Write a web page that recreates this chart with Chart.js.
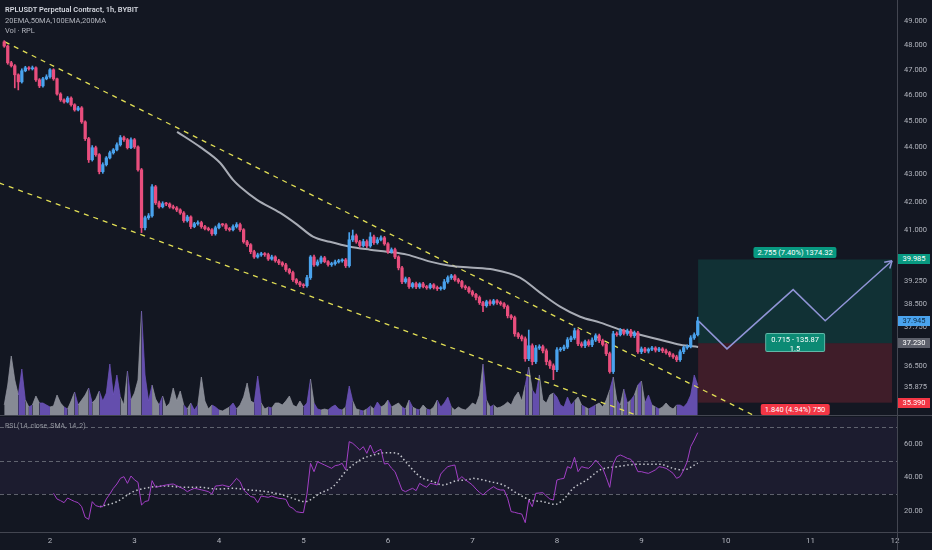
<!DOCTYPE html>
<html><head><meta charset="utf-8">
<script src="https://cdn.jsdelivr.net/npm/chart.js@4.4.1/dist/chart.umd.min.js"></script>
<style>
html,body{margin:0;padding:0;background:#131722;width:932px;height:550px;overflow:hidden;font-family:Roboto,"Liberation Sans",sans-serif}
#wrap{position:relative;width:932px;height:550px}
canvas{position:absolute;left:0}
#price{top:0}
#rsi{top:415px}
.lbl{position:absolute;white-space:nowrap;font-size:7.5px;line-height:10px;color:#fff;text-align:center}
.hdr{position:absolute;left:5px;white-space:nowrap;color:#b2b5be;font-size:7.5px;line-height:9px}
</style></head>
<body><div id="wrap">
<canvas id="price" width="932" height="415"></canvas>
<canvas id="rsi" width="932" height="135"></canvas>
<div class="hdr" style="top:5px;color:#d1d4dc;font-weight:600">RPLUSDT Perpetual Contract, 1h, BYBIT</div>
<div class="hdr" style="top:16px">20EMA,50MA,100EMA,200MA</div>
<div class="hdr" style="top:26px">Vol · RPL</div>
<div class="hdr" style="top:422px;font-size:7px;color:#9598a1">RSI (14, close, SMA, 14, 2)</div>
</div>
<script>
// ---------- DATA ----------
const firstHour = 11;          // first candle: day 1, 11:00 (hours counted from day 1 00:00)
const firstOpen = 48.13;
const closes = [
47.96,47.28,47.16,46.80,46.52,46.96,47.08,47.04,47.08,46.60,
46.36,46.64,46.72,47.00,46.64,46.04,45.81,45.73,45.88,45.62,
45.42,45.50,44.96,44.32,43.53,43.98,43.72,43.09,43.35,43.60,
43.79,43.90,44.09,44.36,44.28,43.98,44.28,44.01,43.16,41.08,
41.43,41.50,42.54,41.96,41.82,41.93,41.92,41.82,41.78,41.71,
41.60,41.33,41.46,41.12,41.22,41.26,41.12,41.05,41.01,40.87,
41.08,41.19,41.18,41.05,41.01,41.12,41.19,41.01,40.59,40.49,
40.25,40.07,40.14,40.18,40.15,40.00,40.07,39.94,39.87,39.80,
39.64,39.54,39.30,39.20,39.13,39.10,39.37,40.07,39.80,39.90,
40.04,39.91,39.81,39.84,39.90,39.94,39.97,39.77,40.66,40.80,
40.59,40.46,40.60,40.45,40.76,40.56,40.66,40.73,40.52,40.25,
40.32,40.07,39.70,39.23,39.33,39.07,39.17,39.06,39.16,39.07,
39.03,39.13,39.04,39.00,39.01,39.23,39.37,39.43,39.30,39.24,
39.07,39.03,38.90,38.81,38.71,38.54,38.44,38.57,38.51,38.60,
38.54,38.50,38.41,38.11,38.05,37.53,37.44,37.37,36.74,37.15,
36.65,37.08,37.12,36.99,36.65,36.52,36.40,37.02,37.05,37.11,
37.34,37.40,37.63,37.21,37.15,37.28,37.18,37.33,37.47,37.31,
37.19,36.90,36.34,37.53,37.50,37.63,37.54,37.62,37.47,37.56,
36.96,37.05,36.98,37.04,37.08,37.01,37.05,36.99,36.93,36.86,
36.80,36.71,36.96,37.09,37.12,37.40,37.50,37.945];
const wickUp = [
0.05,0.04,0.06,0.05,0.04,0.08,0.06,0.05,0.07,0.04,
0.05,0.06,0.08,0.05,0.04,0.03,0.05,0.04,0.06,0.05,
0.04,0.06,0.05,0.04,0.05,0.08,0.06,0.04,0.07,0.05,
0.06,0.05,0.07,0.08,0.06,0.05,0.07,0.05,0.04,0.05,
0.06,0.08,0.08,0.05,0.06,0.07,0.05,0.04,0.06,0.05,
0.04,0.05,0.06,0.04,0.05,0.06,0.05,0.04,0.05,0.04,
0.06,0.05,0.04,0.05,0.04,0.06,0.07,0.05,0.04,0.05,
0.04,0.05,0.06,0.05,0.04,0.05,0.06,0.04,0.05,0.04,
0.05,0.04,0.05,0.04,0.05,0.04,0.08,0.05,0.06,0.07,
0.06,0.05,0.04,0.05,0.06,0.05,0.04,0.05,0.25,0.20,
0.06,0.05,0.08,0.06,0.15,0.06,0.08,0.07,0.05,0.04,
0.06,0.05,0.04,0.05,0.06,0.05,0.04,0.05,0.04,0.05,
0.04,0.05,0.04,0.05,0.06,0.08,0.06,0.05,0.04,0.05,
0.04,0.05,0.04,0.05,0.04,0.05,0.04,0.05,0.06,0.05,
0.04,0.05,0.04,0.05,0.04,0.05,0.04,0.05,0.06,0.50,
0.06,0.08,0.06,0.05,0.06,0.05,0.06,0.07,0.05,0.06,
0.07,0.06,0.08,0.05,0.06,0.05,0.06,0.07,0.06,0.05,
0.05,0.04,0.05,0.08,0.06,0.07,0.05,0.06,0.05,0.06,
0.05,0.06,0.05,0.04,0.05,0.04,0.05,0.04,0.05,0.04,
0.04,0.05,0.06,0.05,0.06,0.07,0.06,0.12];
const wickDn = [
0.05,0.06,0.05,0.52,0.32,0.05,0.04,0.06,0.05,0.06,
0.07,0.05,0.04,0.05,0.06,0.05,0.06,0.05,0.04,0.06,
0.05,0.04,0.06,0.07,0.10,0.05,0.06,0.08,0.06,0.05,
0.04,0.05,0.04,0.05,0.06,0.05,0.04,0.06,0.05,0.17,
0.08,0.06,0.05,0.06,0.05,0.04,0.06,0.05,0.04,0.06,
0.05,0.06,0.05,0.07,0.04,0.05,0.06,0.05,0.04,0.06,
0.05,0.04,0.05,0.06,0.05,0.04,0.05,0.06,0.05,0.06,
0.07,0.05,0.04,0.05,0.06,0.05,0.04,0.05,0.06,0.05,
0.06,0.05,0.06,0.05,0.06,0.07,0.05,0.06,0.05,0.04,
0.05,0.04,0.05,0.06,0.05,0.04,0.05,0.06,0.05,0.06,
0.05,0.06,0.05,0.06,0.05,0.06,0.05,0.04,0.05,0.06,
0.05,0.06,0.07,0.06,0.05,0.06,0.05,0.06,0.05,0.04,
0.05,0.04,0.05,0.06,0.05,0.04,0.05,0.06,0.05,0.06,
0.05,0.06,0.05,0.06,0.08,0.06,0.20,0.05,0.06,0.05,
0.06,0.05,0.06,0.07,0.06,0.08,0.06,0.07,0.08,0.06,
0.10,0.06,0.05,0.07,0.10,0.08,0.31,0.06,0.05,0.06,
0.05,0.06,0.05,0.06,0.05,0.06,0.05,0.06,0.05,0.06,
0.05,0.06,0.05,0.06,0.05,0.04,0.05,0.06,0.05,0.06,
0.05,0.06,0.05,0.06,0.05,0.06,0.05,0.06,0.05,0.06,
0.05,0.06,0.05,0.06,0.05,0.04,0.05,0.04];
const volumes = [
10,30,59,35,20,46,15,8,10,19,
12,12,10,8,9,20,12,8,6,14,
23,10,15,20,27,12,16,24,14,22,
51,20,40,18,10,44,15,22,35,104,
40,14,30,16,10,19,8,12,27,14,
24,10,6,12,5,10,38,14,6,10,
8,5,4,6,8,12,6,10,18,32,
14,12,39,12,6,8,7,12,12,10,
14,19,10,8,14,8,12,36,12,6,
5,6,5,8,10,6,5,8,29,14,
6,5,4,6,9,6,13,8,10,15,
8,10,12,8,6,15,8,6,5,10,
6,5,8,15,8,12,18,8,5,8,
6,5,8,12,10,20,51,15,8,10,
7,8,10,13,10,18,23,14,30,48,
25,20,40,15,12,20,22,18,10,8,
18,10,14,18,10,8,6,8,10,12,
8,15,25,38,15,10,26,12,15,20,
30,34,12,20,10,8,6,8,12,8,
6,10,10,8,12,20,40,30];
const rsiStart = 14;   // RSI(14) begins at the 15th candle
const rsiValues = [
30.4,27,26,24.8,27.6,26.5,25.5,24.8,22.4,16,
14.8,25.4,23,22.4,22.4,27,30,33.4,36,39.4,
40.4,36.4,40.8,38.5,37,23.4,25.5,26,38,34,
34.5,35,35.4,35.8,36,35,34,33,31.4,32.5,
33.4,33,32.5,32,31.4,30,34.8,35,35.4,34.8,
34.4,36.8,39.4,37.4,32.4,30.5,28.5,28,24.8,28.8,
28.4,28,28.8,28,27.4,27.2,26.8,22.5,21.4,19.4,
19,18.8,30,48.4,43.4,49.4,48.4,47.4,46.4,45.4,
47,47.4,48.4,44.4,61.4,60.4,58.5,56.4,58.4,54.4,
59.4,54.4,55.8,56.8,48,48.4,45.5,43.4,38,32.4,
31.4,32.5,33.4,32,36.4,35,34,36.4,36,35.4,
42,44.4,46.4,47,47.4,38.4,40.4,38.5,37,35.4,
33,31,29.4,31.4,33,34.4,33,32.4,32.4,27.4,
19.4,19,18.4,18,12.8,26.4,22.4,30.4,30.6,30.8,
28.8,27,26.4,38.4,39,39.4,46.4,45.4,52,43.4,
46.4,45.8,45.4,47.4,50.4,48,45.4,40,34,48,
52.4,53.4,52.5,51.4,50.8,48,43.4,43.4,42.8,42.4,
43.4,44.5,46.4,46,45.4,44,42.4,39.4,40.5,44.4,
49.4,58.4,62.4,66.8];
const smaHours = [38.2,43,47.6,52.4,57.2,61.8,66.6,71.4,76,80.8,85.6,90.2,93,96.4,100.7,104.4,108.4,112.1,115.8,119.7,122.6,125.4,129.1,132.8,135.6,139.6,142.5,144.2,149,152.7,156.7,160.4,164.1,167.5,169.7,172.6,176.5,180.2,185.1,190.8,197.3,201,203.8,208];
const smaValues = [22.4,25.4,31.4,34,34.8,34,34,33,33.4,32.4,31.4,29.4,27.4,25.4,30.4,34.4,44.4,50.4,53.4,54.8,54.4,48.4,40.4,37.4,35.4,38,38.4,39.4,37.4,35.4,30.4,26.4,25.4,23.8,26.4,33.4,38.4,44.4,46.4,47.8,47.8,45.4,44.4,48.5];
const maHours = [60.1,66.6,72.3,76.0,78.0,82.8,89.3,94.2,98.7,103.5,109.2,114.9,119.7,125.4,132.0,137.6,143.3,149.9,157.5,163.2,168.9,174.6,180.3,186.0,191.6,197.3,203.0,208.1];
const maValues = [44.58,44.01,43.42,42.79,42.54,42.07,41.61,41.19,40.77,40.59,40.42,40.32,40.25,40.15,39.91,39.77,39.71,39.64,39.37,38.87,38.41,38.08,37.89,37.66,37.50,37.34,37.18,37.11];
const upperChannelHours = [11.2, 226.4];
const upperChannelPrices = [48.13, 34.88];
const lowerChannelHours = [6.95, 194.2];
const lowerChannelPrices = [42.80, 34.88];
const zigHours = [208.4, 216.3, 235.1, 244.2, 263.2];
const zigPrices = [37.92, 37.05, 38.97, 37.95, 39.94];
const entryPrice = 37.23, targetPrice = 39.985, stopPrice = 35.39;
const posStartHour = 208.1, posEndHour = 263.2;
const lastPrice = 37.945;
const targetText = '2.755 (7.40%) 1374.32';
const midText = ['0.715 - 135.87', '1.5'];
const stopText = '1.840 (4.94%) 750';
const dayTicks = [24,48,72,96,120,144,168,192,216,240,264];
const dayLabels = ['2','3','4','5','6','7','8','9','10','11','12'];
const priceTicks = [49,48,47,46,45,44,43,42,41,39.25,38.5,37.75,36.5,35.875];
const rsiTicks = [20,40,60];
const rsiLevels = [70,50,30];

// ---------- STYLE ----------
const X_MIN = 9.8, X_MAX = 264.6;
const UP = '#4aa3ee', DOWN = '#e94e7d';
const VOL_PURPLE = 'rgba(110,84,188,0.9)', VOL_GRAY = 'rgba(148,151,161,0.9)';
const AXIS_TXT = '#b2b5be', LINE_C = '#434651';
Chart.defaults.font.family = 'Roboto, "Liberation Sans", sans-serif';

const hours = closes.map((_, i) => firstHour + i);
const opens = closes.map((c, i) => i === 0 ? firstOpen : closes[i - 1]);
const highs = closes.map((c, i) => Math.max(opens[i], c) + wickUp[i]);
const lows = closes.map((c, i) => Math.min(opens[i], c) - wickDn[i]);
const isUp = closes.map((c, i) => c >= opens[i]);
const candleColors = isUp.map(u => u ? UP : DOWN);

function noPad(s) { s.paddingTop = 0; s.paddingBottom = 0; s.paddingLeft = 0; s.paddingRight = 0; }

const positionPlugin = {
  id: 'position',
  beforeDatasetsDraw(chart) {
    const {ctx, scales: {x, y}} = chart;
    const x0 = x.getPixelForValue(posStartHour), x1 = x.getPixelForValue(posEndHour);
    const yT = y.getPixelForValue(targetPrice), yE = y.getPixelForValue(entryPrice), yS = y.getPixelForValue(stopPrice);
    ctx.save();
    ctx.fillStyle = 'rgba(8,153,129,0.2)'; ctx.fillRect(x0, yT, x1 - x0, yE - yT);
    ctx.fillStyle = 'rgba(242,54,69,0.2)'; ctx.fillRect(x0, yE, x1 - x0, yS - yE);
    ctx.restore();
  },
  afterDatasetsDraw(chart) {
    const {ctx, scales: {x, y}} = chart;
    const n = zigHours.length;
    const ax = x.getPixelForValue(zigHours[n - 1]), ay = y.getPixelForValue(zigPrices[n - 1]);
    const bx = x.getPixelForValue(zigHours[n - 2]), by = y.getPixelForValue(zigPrices[n - 2]);
    const ang = Math.atan2(ay - by, ax - bx);
    ctx.save();
    ctx.strokeStyle = '#9094d6'; ctx.lineWidth = 1.5;
    ctx.beginPath();
    [0.55, -0.55].forEach(d => {
      ctx.moveTo(ax, ay);
      ctx.lineTo(ax - 8 * Math.cos(ang + d), ay - 8 * Math.sin(ang + d));
    });
    ctx.stroke();
    ctx.restore();
  }
};

const priceChart = new Chart(document.getElementById('price'), {
  type: 'bar',
  data: { datasets: [
    { type: 'line', label: 'Volume', yAxisID: 'vol', order: 10,
      data: hours.map((h, i) => ({x: h, y: volumes[i]})),
      fill: 'origin', pointRadius: 0, borderWidth: 0.8, tension: 0,
      borderColor: VOL_GRAY, backgroundColor: VOL_GRAY,
      segment: {
        borderColor: c => isUp[c.p1DataIndex] ? VOL_PURPLE : VOL_GRAY,
        backgroundColor: c => isUp[c.p1DataIndex] ? VOL_PURPLE : VOL_GRAY
      } },
    { type: 'line', label: 'Upper channel', yAxisID: 'y', order: 6,
      data: upperChannelHours.map((h, i) => ({x: h, y: upperChannelPrices[i]})),
      borderColor: '#e2df55', borderWidth: 1.3, borderDash: [5, 5], pointRadius: 0, fill: false },
    { type: 'line', label: 'Lower channel', yAxisID: 'y', order: 6,
      data: lowerChannelHours.map((h, i) => ({x: h, y: lowerChannelPrices[i]})),
      borderColor: '#e2df55', borderWidth: 1.3, borderDash: [5, 5], pointRadius: 0, fill: false },
    { type: 'line', label: 'MA', yAxisID: 'y', order: 5,
      data: maHours.map((h, i) => ({x: h, y: maValues[i]})),
      borderColor: 'rgba(185,188,197,0.9)', borderWidth: 2, pointRadius: 0, fill: false,
      cubicInterpolationMode: 'monotone' },
    { type: 'bar', label: 'Wicks', yAxisID: 'y', order: 3, grouped: false,
      data: hours.map((h, i) => ({x: h, y: [lows[i], highs[i]]})),
      backgroundColor: candleColors, barThickness: 1, borderWidth: 0 },
    { type: 'bar', label: 'Bodies', yAxisID: 'y', order: 2, grouped: false,
      data: hours.map((h, i) => ({x: h, y: [opens[i], closes[i]]})),
      backgroundColor: candleColors, barThickness: 2.6, minBarLength: 1, borderWidth: 0 },
    { type: 'line', label: 'Projection', yAxisID: 'y', order: 1,
      data: zigHours.map((h, i) => ({x: h, y: zigPrices[i]})),
      borderColor: '#9094d6', borderWidth: 1.5, pointRadius: 0, fill: false, tension: 0 }
  ]},
  options: {
    responsive: false, animation: false,
    layout: { padding: 0, autoPadding: false },
    plugins: { legend: { display: false }, tooltip: { enabled: false } },
    scales: {
      x: { type: 'linear', min: X_MIN, max: X_MAX, offset: false, display: false,
           grid: { display: false, offset: false } },
      y: { type: 'logarithmic', position: 'right', min: 35.02, max: 49.88, beginAtZero: false,
           afterBuildTicks: s => { s.ticks = priceTicks.map(v => ({value: v})); },
           afterFit: s => { s.width = 35; noPad(s); },
           ticks: { callback: v => Number(v).toFixed(3), color: AXIS_TXT, font: { size: 7.5 }, padding: 7, autoSkip: false },
           grid: { display: false, drawTicks: false },
           border: { display: true, color: LINE_C } },
      vol: { type: 'linear', display: false, min: 0, max: 415 }
    }
  },
  plugins: [positionPlugin]
});

const rsiPlugin = {
  id: 'rsiDeco',
  beforeDatasetsDraw(chart) {
    const {ctx, chartArea: a, scales: {y}} = chart;
    ctx.save();
    ctx.fillStyle = 'rgba(126,87,194,0.09)';
    const y30 = y.getPixelForValue(30);
    ctx.fillRect(a.left, a.top, a.right - a.left, y30 - a.top);
    ctx.strokeStyle = 'rgba(120,123,134,0.75)'; ctx.lineWidth = 1; ctx.setLineDash([4, 3]);
    rsiLevels.forEach(l => {
      const py = Math.round(y.getPixelForValue(l)) + 0.5;
      ctx.beginPath(); ctx.moveTo(a.left, py); ctx.lineTo(a.right, py); ctx.stroke();
    });
    ctx.restore();
  },
  afterDraw(chart) {
    const {ctx, chartArea: a, width, height} = chart;
    ctx.save();
    ctx.strokeStyle = LINE_C; ctx.lineWidth = 1;
    ctx.beginPath();
    ctx.moveTo(0, 0.5); ctx.lineTo(width, 0.5);
    ctx.moveTo(0, Math.round(a.bottom) + 0.5); ctx.lineTo(width, Math.round(a.bottom) + 0.5);
    ctx.moveTo(Math.round(a.right) + 0.5, 0); ctx.lineTo(Math.round(a.right) + 0.5, height);
    ctx.stroke();
    ctx.restore();
  }
};

const rsiChart = new Chart(document.getElementById('rsi'), {
  type: 'line',
  data: { datasets: [
    { label: 'RSI', data: rsiValues.map((v, k) => ({x: firstHour + rsiStart + k, y: v})),
      borderColor: '#a33fc6', borderWidth: 1, pointRadius: 0, tension: 0, fill: false },
    { label: 'RSI SMA', data: smaHours.map((h, k) => ({x: h, y: smaValues[k]})),
      borderColor: 'rgba(225,226,232,0.85)', borderWidth: 1.5, borderDash: [1.5, 2.5],
      pointRadius: 0, cubicInterpolationMode: 'monotone', fill: false }
  ]},
  options: {
    responsive: false, animation: false,
    layout: { padding: { top: 2, left: 0, right: 0, bottom: 0 }, autoPadding: false },
    plugins: { legend: { display: false }, tooltip: { enabled: false } },
    scales: {
      x: { type: 'linear', min: X_MIN, max: X_MAX,
           afterBuildTicks: s => { s.ticks = dayTicks.map(v => ({value: v})); },
           afterFit: s => { s.height = 18; noPad(s); },
           ticks: { callback: (v, i) => dayLabels[i], color: AXIS_TXT, font: { size: 8 }, padding: 4, autoSkip: false, maxRotation: 0 },
           grid: { display: false, drawTicks: false }, border: { display: false } },
      y: { position: 'right', min: 7.2, max: 76.2,
           afterBuildTicks: s => { s.ticks = rsiTicks.map(v => ({value: v})); },
           afterFit: s => { s.width = 35; noPad(s); },
           ticks: { callback: v => Number(v).toFixed(2), color: AXIS_TXT, font: { size: 7.5 }, padding: 7, autoSkip: false },
           grid: { display: false, drawTicks: false }, border: { display: true, color: LINE_C } }
    }
  },
  plugins: [rsiPlugin]
});

// ---------- HTML LABELS (positioned through the chart scales) ----------
const wrap = document.getElementById('wrap');
function addLabel(html, style) {
  const d = document.createElement('div');
  d.className = 'lbl'; d.innerHTML = html; Object.assign(d.style, style);
  wrap.appendChild(d); return d;
}
const px = priceChart.scales.x, py = priceChart.scales.y;
const axisLeft = py.left + 1;
[[targetPrice, '#089981', '#fff'], [lastPrice, '#4aa3ee', '#0b2a44'], [entryPrice, '#5d606b', '#fff'], [stopPrice, '#f23645', '#fff']]
  .forEach(([v, bg, fg]) => {
    addLabel(v.toFixed(3), { left: axisLeft + 'px', width: '32px', height: '10px',
      top: (py.getPixelForValue(v) - 5) + 'px', background: bg, color: fg });
  });
const cx = (px.getPixelForValue(posStartHour) + px.getPixelForValue(posEndHour)) / 2;
const yT = py.getPixelForValue(targetPrice), yE = py.getPixelForValue(entryPrice), yS = py.getPixelForValue(stopPrice);
addLabel(targetText, { left: cx + 'px', top: (yT - 12) + 'px', transform: 'translateX(-50%)',
  background: '#089981', padding: '0 4px', height: '11px', lineHeight: '11px', borderRadius: '2px' });
addLabel(midText.join('<br>'), { left: cx + 'px', top: (yE - 10) + 'px', transform: 'translateX(-50%)',
  background: '#0c8a74', padding: '0 5px', lineHeight: '9px', height: '19px', paddingTop: '1px', boxSizing: 'border-box',
  border: '1px solid rgba(180,230,220,0.5)', borderRadius: '2px' });
addLabel(stopText, { left: cx + 'px', top: (yS + 1) + 'px', transform: 'translateX(-50%)',
  background: '#f23645', padding: '0 4px', height: '11px', lineHeight: '11px', borderRadius: '2px' });
</script>
</body></html>
